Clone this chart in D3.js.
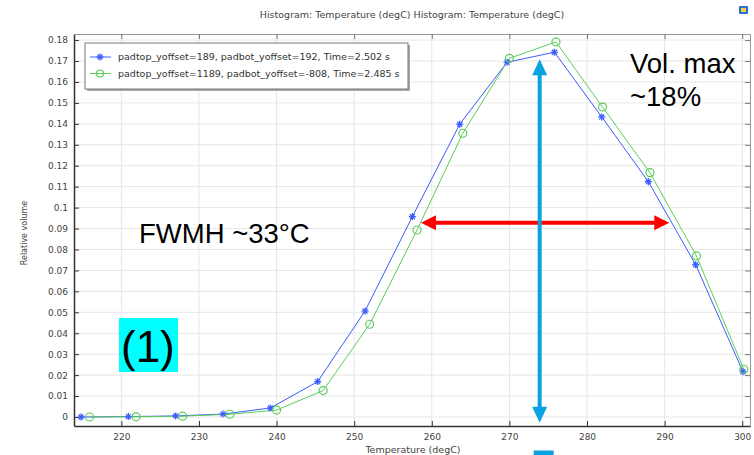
<!DOCTYPE html>
<html>
<head>
<meta charset="utf-8">
<script src="https://cdn.jsdelivr.net/npm/d3@7"></script>
<style>
  html, body { margin: 0; padding: 0; background: #fff; }
  svg { display: block; font-family: "DejaVu Sans", sans-serif; }
</style>
</head>
<body>
<svg id="chart" width="754" height="455"></svg>
<script>
// Data
const blueTemp = [214.8, 220.9, 227.0, 233.1, 239.2, 245.3, 251.4, 257.5, 263.6, 269.7, 275.8, 281.9, 287.9, 294.0, 300.1];
const blueVol = [0.0000, 0.0002, 0.0005, 0.0014, 0.0043, 0.0169, 0.0506, 0.0957, 0.1398, 0.1694, 0.1742, 0.1433, 0.1124, 0.0727, 0.0216];
const greenTemp = [215.9, 221.9, 227.9, 234.0, 240.0, 246.0, 252.0, 258.1, 264.0, 270.0, 276.0, 282.0, 288.1, 294.1, 300.2];
const greenVol = [0.0000, 0.0001, 0.0004, 0.0013, 0.0033, 0.0126, 0.0443, 0.0893, 0.1355, 0.1713, 0.1791, 0.1480, 0.1167, 0.0769, 0.0228];
const seriesNames = [
    "padtop_yoffset=189, padbot_yoffset=192, Time=2.502 s",
    "padtop_yoffset=1189, padbot_yoffset=-808, Time=2.485 s",
];
const xTicks = [220, 230, 240, 250, 260, 270, 280, 290, 300];
const yTicks = d3.range(0, 0.181, 0.01).map((d) => +d.toFixed(2));

// annotation anchors (data units)
const fwhmRange = [258.6, 290.6], fwhmLevel = 0.0928;
const peakTemp = 273.9, peakRange = [-0.0027, 0.1708];

const W = 754, H = 455;
const margin = { top: 34, right: 4, bottom: 29, left: 74 };
const blue = "#3a5cff", green = "#5ccc5c", cyan = "#0aa2e0";

const svg = d3.select("#chart");

const x = d3.scaleLinear().domain([213.9, 301.0]).range([margin.left, W - margin.right]);
const y = d3.scaleLinear().domain([-0.0043, 0.1829]).range([H - margin.bottom, margin.top]);

// title + icon
svg.append("text")
    .attr("x", 412).attr("y", 18)
    .attr("text-anchor", "middle")
    .attr("font-size", 9.5).attr("fill", "#444")
    .text("Histogram: Temperature (degC)  Histogram: Temperature (degC)");
svg.append("rect").attr("x", 739).attr("y", 6).attr("width", 9).attr("height", 8)
    .attr("fill", "#2f6fd0").attr("rx", 1);
svg.append("rect").attr("x", 741).attr("y", 8).attr("width", 5).attr("height", 4)
    .attr("fill", "#f3d24a");

// grid
const grid = svg.append("g").attr("stroke", "#e6e6e6").attr("stroke-width", 1);
grid.selectAll("line.v").data(xTicks).join("line")
    .attr("x1", (d) => x(d)).attr("x2", (d) => x(d))
    .attr("y1", margin.top).attr("y2", H - margin.bottom);
grid.selectAll("line.h").data(yTicks).join("line")
    .attr("x1", margin.left).attr("x2", W - margin.right)
    .attr("y1", (d) => y(d)).attr("y2", (d) => y(d));

// axes
const fmtY = (d) => (d === 0 ? "0" : d3.format(".2~f")(d));
const gx = svg.append("g")
    .attr("transform", `translate(0,${H - margin.bottom})`)
    .call(d3.axisBottom(x).tickValues(xTicks).tickSize(-5).tickPadding(8).tickSizeOuter(0));
const gy = svg.append("g")
    .attr("transform", `translate(${margin.left},0)`)
    .call(d3.axisLeft(y).tickValues(yTicks).tickFormat(fmtY).tickSize(-5).tickPadding(6).tickSizeOuter(0));
const gxTop = svg.append("g")
    .attr("transform", `translate(0,${margin.top})`)
    .call(d3.axisTop(x).tickValues(xTicks).tickSize(-5).tickFormat("").tickSizeOuter(0));
const gyRight = svg.append("g")
    .attr("transform", `translate(${W - margin.right},0)`)
    .call(d3.axisRight(y).tickValues(yTicks).tickSize(-5).tickFormat("").tickSizeOuter(0));

[gx, gy].forEach((g) => {
    g.select(".domain").attr("stroke", "#333").attr("stroke-width", 1.5);
    g.selectAll(".tick line").attr("stroke", "#333");
    g.selectAll(".tick text").attr("fill", "#444").attr("font-size", 9)
        .attr("font-family", "DejaVu Sans, sans-serif");
});
[gxTop, gyRight].forEach((g) => {
    g.select(".domain").attr("stroke", "#999");
    g.selectAll(".tick line").attr("stroke", "#777");
});

// axis titles
svg.append("text")
    .attr("x", 413).attr("y", 453)
    .attr("text-anchor", "middle").attr("font-size", 9.5).attr("fill", "#444")
    .text("Temperature (degC)");
svg.append("text")
    .attr("transform", "translate(27,233) rotate(-90)")
    .attr("text-anchor", "middle").attr("font-size", 8).attr("fill", "#444")
    .text("Relative volume");

// series
const line = d3.line().x((d) => x(d[0])).y((d) => y(d[1]));
const blueData = d3.zip(blueTemp, blueVol);
const greenData = d3.zip(greenTemp, greenVol);

svg.append("path").datum(blueData).attr("d", line)
    .attr("fill", "none").attr("stroke", blue).attr("stroke-width", 1);
svg.append("path").datum(greenData).attr("d", line)
    .attr("fill", "none").attr("stroke", green).attr("stroke-width", 1);

function star(sel, r) {
    sel.append("line").attr("x1", -r).attr("x2", r).attr("y1", 0).attr("y2", 0);
    sel.append("line").attr("x1", 0).attr("x2", 0).attr("y1", -r).attr("y2", r);
    sel.append("line").attr("x1", -r * 0.7).attr("x2", r * 0.7).attr("y1", -r * 0.7).attr("y2", r * 0.7);
    sel.append("line").attr("x1", -r * 0.7).attr("x2", r * 0.7).attr("y1", r * 0.7).attr("y2", -r * 0.7);
}

svg.append("g").selectAll("g").data(blueData).join("g")
    .attr("transform", (d) => `translate(${x(d[0])},${y(d[1])})`)
    .attr("stroke", blue).attr("stroke-width", 1.3)
    .each(function () { star(d3.select(this), 3.5); });

svg.append("g").selectAll("circle").data(greenData).join("circle")
    .attr("cx", (d) => x(d[0])).attr("cy", (d) => y(d[1])).attr("r", 4)
    .attr("fill", "none").attr("stroke", green).attr("stroke-width", 1.2);

// legend
const legend = svg.append("g");
legend.append("rect").attr("x", 87).attr("y", 45).attr("width", 323).attr("height", 46)
    .attr("fill", "#aaa");
legend.append("rect").attr("x", 85).attr("y", 43).attr("width", 323).attr("height", 46)
    .attr("fill", "#fff").attr("stroke", "#777");
const rows = [
    { name: seriesNames[0], color: blue, kind: "star", yy: 57 },
    { name: seriesNames[1], color: green, kind: "circle", yy: 73.5 },
];
rows.forEach((r) => {
    legend.append("line").attr("x1", 90).attr("x2", 111).attr("y1", r.yy).attr("y2", r.yy)
        .attr("stroke", r.color);
    if (r.kind === "star") {
        const g = legend.append("g").attr("transform", `translate(100,${r.yy})`)
            .attr("stroke", r.color).attr("stroke-width", 1.3);
        star(g, 3.5);
    } else {
        legend.append("circle").attr("cx", 100).attr("cy", r.yy).attr("r", 3.5)
            .attr("fill", "none").attr("stroke", r.color).attr("stroke-width", 1.2);
    }
    legend.append("text").attr("x", 118).attr("y", r.yy + 3.4)
        .attr("font-size", 9.5).attr("fill", "#333").text(r.name);
});

// annotations
const ann = svg.append("g").attr("font-family", "Liberation Sans, Arial, sans-serif");

// red FWHM double arrow
const ry = y(fwhmLevel), rx1 = x(fwhmRange[0]), rx2 = x(fwhmRange[1]);
ann.append("line").attr("x1", rx1 + 12).attr("x2", rx2 - 12).attr("y1", ry).attr("y2", ry)
    .attr("stroke", "#ff0000").attr("stroke-width", 4);
ann.append("path").attr("fill", "#ff0000")
    .attr("d", `M${rx1},${ry} L${rx1 + 15},${ry - 7.5} L${rx1 + 15},${ry + 7.5} Z`);
ann.append("path").attr("fill", "#ff0000")
    .attr("d", `M${rx2},${ry} L${rx2 - 15},${ry - 7.5} L${rx2 - 15},${ry + 7.5} Z`);

// blue peak double arrow
const bx = x(peakTemp), by1 = y(peakRange[1]), by2 = y(peakRange[0]);
ann.append("line").attr("x1", bx).attr("x2", bx).attr("y1", by1 + 12).attr("y2", by2 - 12)
    .attr("stroke", cyan).attr("stroke-width", 4);
ann.append("path").attr("fill", cyan)
    .attr("d", `M${bx},${by1} L${bx - 7.5},${by1 + 16} L${bx + 7.5},${by1 + 16} Z`);
ann.append("path").attr("fill", cyan)
    .attr("d", `M${bx},${by2} L${bx - 7.5},${by2 - 16} L${bx + 7.5},${by2 - 16} Z`);
ann.append("rect").attr("x", bx - 6).attr("y", 450.5).attr("width", 20).attr("height", 5)
    .attr("fill", cyan);

ann.append("text").attr("x", 630).attr("y", 73).attr("font-size", 27.5).attr("fill", "#000")
    .text("Vol. max");
ann.append("text").attr("x", 630).attr("y", 106).attr("font-size", 27.5).attr("fill", "#000")
    .text("~18%");
ann.append("text").attr("x", 139).attr("y", 243).attr("font-size", 27.5).attr("fill", "#000")
    .text("FWMH ~33°C");

ann.append("rect").attr("x", 119).attr("y", 318).attr("width", 59).attr("height", 54)
    .attr("fill", "#00ffff");
ann.append("text").attr("x", 121).attr("y", 362).attr("font-size", 44).attr("fill", "#000")
    .text("(1)");
</script>
</body>
</html>
